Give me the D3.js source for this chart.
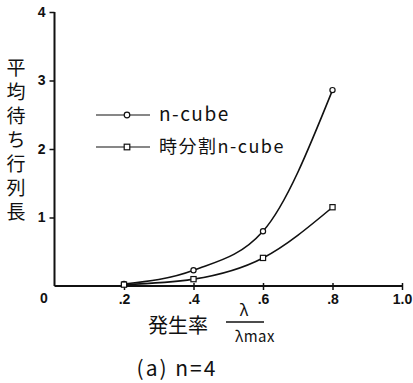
<!DOCTYPE html>
<html><head><meta charset="utf-8">
<script src="https://cdn.jsdelivr.net/npm/d3@7"></script>
<style>body{margin:0;background:#fff}svg{display:block}</style>
</head><body><svg id="c" width="413" height="383"></svg>
<script>
const xValues = [0.2, 0.4, 0.6, 0.8];
const nCube = [0.03, 0.23, 0.80, 2.86];
const timeDivCube = [0.02, 0.10, 0.41, 1.15];
const xTicks = [0.2, 0.4, 0.6, 0.8, 1.0];
const xTickLabels = [".2", ".4", ".6", ".8", "1.0"];
const yTicks = [1, 2, 3, 4];
const seriesNames = ["n-cube", "時分割n-cube"];
const yTitle = "平均待ち行列長";

const svg = d3.select("#c");
const x = d3.scaleLinear().domain([0, 1]).range([54.5, 402]);
const y = d3.scaleLinear().domain([0, 4]).range([286, 12]);
const ink = "#111";
const hand = "'Noto Sans CJK JP', sans-serif";
const num = "Liberation Sans, Arial, sans-serif";

svg.append("line").attr("x1", x(0)).attr("x2", x(0)).attr("y1", y(4)).attr("y2", y(0))
  .attr("stroke", ink).attr("stroke-width", 2);
svg.append("line").attr("x1", x(0)).attr("x2", x(1)).attr("y1", y(0)).attr("y2", y(0))
  .attr("stroke", ink).attr("stroke-width", 2);

const yAxis = d3.axisLeft(y).tickValues(yTicks).tickSize(5).tickFormat(d3.format("d"));
const gy = svg.append("g").attr("transform", `translate(${x(0)},0)`).call(yAxis);
gy.select(".domain").remove();
gy.selectAll("line").attr("stroke", ink).attr("stroke-width", 1.5);
gy.selectAll("text").attr("font-family", num)
  .attr("font-size", 14).attr("font-weight", "bold").attr("fill", ink).attr("dx", -1);

const xAxis = d3.axisBottom(x).tickValues(xTicks).tickSize(4).tickFormat((d, i) => xTickLabels[i]);
const gx = svg.append("g").attr("transform", `translate(0,${y(0)})`).call(xAxis);
gx.select(".domain").remove();
gx.selectAll("line").attr("stroke", ink).attr("stroke-width", 1.5).attr("y1", -3);
gx.selectAll("text").attr("font-family", num)
  .attr("font-size", 14).attr("font-weight", "bold").attr("fill", ink).attr("dy", "0.8em");

svg.append("text").attr("x", 44).attr("y", 303).attr("text-anchor", "middle")
  .attr("font-family", num).attr("font-size", 14)
  .attr("font-weight", "bold").attr("fill", ink).text("0");

const line = d3.line().x(d => x(d[0])).y(d => y(d[1])).curve(d3.curveMonotoneX);
const s1 = xValues.map((v, i) => [v, nCube[i]]);
const s2 = xValues.map((v, i) => [v, timeDivCube[i]]);
svg.append("path").attr("d", line(s1)).attr("fill", "none").attr("stroke", ink).attr("stroke-width", 1.6);
svg.append("path").attr("d", line(s2)).attr("fill", "none").attr("stroke", ink).attr("stroke-width", 1.6);

svg.selectAll(".c1").data(s1).enter().append("circle")
  .attr("cx", d => x(d[0])).attr("cy", d => y(d[1])).attr("r", 2.6)
  .attr("fill", "#fff").attr("stroke", ink).attr("stroke-width", 1.2);
svg.selectAll(".s2").data(s2).enter().append("rect")
  .attr("x", d => x(d[0]) - 2.6).attr("y", d => y(d[1]) - 2.6).attr("width", 5.2).attr("height", 5.2)
  .attr("fill", "#fff").attr("stroke", ink).attr("stroke-width", 1.2);

const lg = [{y: 115, name: seriesNames[0], shape: "c", size: 19},
            {y: 147, name: seriesNames[1], shape: "s", size: 18}];
lg.forEach(l => {
  svg.append("line").attr("x1", 96).attr("x2", 150).attr("y1", l.y).attr("y2", l.y)
    .attr("stroke", ink).attr("stroke-width", 1.2);
  if (l.shape === "c") {
    svg.append("circle").attr("cx", 127).attr("cy", l.y).attr("r", 2.8)
      .attr("fill", "#fff").attr("stroke", ink).attr("stroke-width", 1.2);
  } else {
    svg.append("rect").attr("x", 124.2).attr("y", l.y - 2.8).attr("width", 5.6).attr("height", 5.6)
      .attr("fill", "#fff").attr("stroke", ink).attr("stroke-width", 1.2);
  }
  svg.append("text").attr("x", 159).attr("y", l.y + 6).attr("font-family", hand)
    .attr("font-size", l.size).attr("letter-spacing", 1.5).attr("fill", ink).text(l.name);
});

svg.append("text").attr("x", 16).attr("y", 58)
  .attr("font-family", hand).attr("font-size", 19).attr("fill", ink)
  .attr("letter-spacing", 5)
  .style("writing-mode", "vertical-rl").style("text-orientation", "upright")
  .text(yTitle);

svg.append("text").attr("x", 148).attr("y", 333).attr("font-family", hand)
  .attr("font-size", 20).attr("fill", ink).text("発生率");
svg.append("text").attr("x", 244).attr("y", 316).attr("text-anchor", "middle")
  .attr("font-family", hand).attr("font-size", 16).attr("fill", ink).text("λ");
svg.append("line").attr("x1", 226).attr("x2", 264).attr("y1", 322).attr("y2", 322)
  .attr("stroke", ink).attr("stroke-width", 1.5);
svg.append("text").attr("x", 255).attr("y", 342).attr("text-anchor", "middle")
  .attr("font-family", hand).attr("font-size", 15).attr("letter-spacing", 0.5).attr("fill", ink).text("λmax");

svg.append("text").attr("x", 177).attr("y", 376).attr("text-anchor", "middle")
  .attr("font-family", hand).attr("font-size", 21).attr("letter-spacing", 2).attr("fill", ink).text("(a) n=4");
</script></body></html>
